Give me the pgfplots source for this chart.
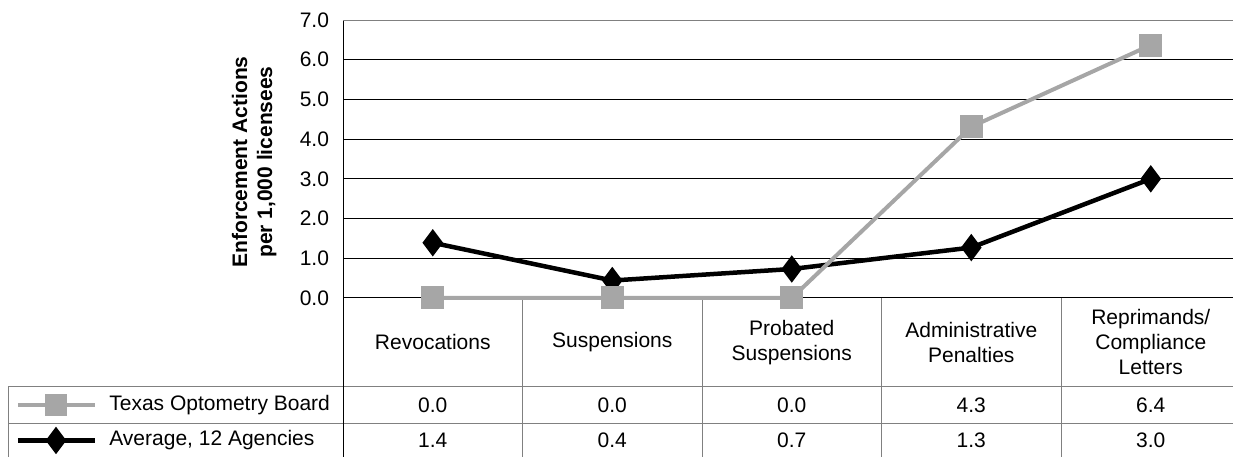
\documentclass[border=0pt]{standalone}
\usepackage{fontspec}
\setmainfont{Liberation Sans}
\usepackage{pgfplots}
\usepackage{pgfplotstable}
\pgfplotsset{compat=1.18}

\definecolor{tobgray}{HTML}{A6A6A6}
\definecolor{rulegray}{HTML}{808080}

% enforcement actions per 1,000 licensees
\pgfplotstableread{
x tob avg
0 0.0  1.39
1 0.0  0.44
2 0.0  0.73
3 4.31 1.27
4 6.37 3.0
}\enforcement

\newcommand{\chartfont}{\fontsize{10.5}{12.5}\selectfont}

\begin{document}
\begin{tikzpicture}
  \begin{axis}[
      scale only axis,
      width=445pt, height=139pt,
      xmin=-0.5, xmax=4.458,
      ymin=0, ymax=7,
      clip=false,
      axis line style={draw=none},
      major tick length=0pt,
      ytick={0,1,...,7},
      ymajorgrids,
      major grid style={black, line width=0.5pt},
      yticklabel style={font=\chartfont, xshift=-3.5pt,
        /pgf/number format/.cd, fixed, fixed zerofill, precision=1, assume math mode=true},
      xtick={0,...,4},
      xticklabels={Revocations, Suspensions, Probated\\Suspensions,
        Administrative\\Penalties, Reprimands/\\Compliance\\Letters},
      xticklabel style={font=\chartfont, align=center, anchor=center, yshift=-22.25pt},
      ylabel={Enforcement Actions\\per 1,000 licensees},
      ylabel style={font=\chartfont\bfseries, align=center, inner sep=0pt,
        at={(rel axis cs:-0.0742,0.489)}, anchor=south},
    ]

    % table rules
    \draw[rulegray, line width=0.5pt] (axis cs:-2.366,-2.241) -- (axis cs:4.458,-2.241);
    \draw[rulegray, line width=0.5pt] (axis cs:-2.366,-3.173) -- (axis cs:4.458,-3.173);
    \draw[rulegray, line width=0.5pt] (axis cs:-2.366,-2.241) -- (axis cs:-2.366,-4.1);
    \pgfplotsinvokeforeach{0.5,1.5,2.5,3.5}{
      \draw[rulegray, line width=0.5pt] (axis cs:#1,0) -- (axis cs:#1,-4.1);
    }
    \draw[black, line width=0.5pt] (axis cs:-0.5,7) -- (axis cs:-0.5,-4.1);
    \draw[rulegray, line width=0.5pt] (axis cs:-0.5,7) -- (axis cs:4.458,7);

    % series
    \addplot[black, line width=2.25pt, mark=diamond*, mark size=5pt]
      table[x=x, y=avg]{\enforcement};
    \addplot[tobgray, line width=2pt, mark=square*, mark size=4.75pt]
      table[x=x, y=tob]{\enforcement};

    % data table values
    \addplot[draw=none, mark=none, point meta=\thisrow{tob},
      nodes near coords={\pgfmathprintnumber[fixed,fixed zerofill,precision=1,assume math mode=true]{\pgfplotspointmeta}},
      every node near coord/.append style={anchor=center, font=\chartfont, text=black}]
      table[x=x, y expr=-2.707]{\enforcement};
    \addplot[draw=none, mark=none, point meta=\thisrow{avg},
      nodes near coords={\pgfmathprintnumber[fixed,fixed zerofill,precision=1,assume math mode=true]{\pgfplotspointmeta}},
      every node near coord/.append style={anchor=center, font=\chartfont, text=black}]
      table[x=x, y expr=-3.588]{\enforcement};

    % legend keys in the table
    \addplot[tobgray, line width=2pt, mark=square*, mark size=4.5pt, mark indices={2}]
      coordinates {(-2.311,-2.707) (-2.099,-2.707) (-1.882,-2.707)};
    \addplot[black, line width=2.25pt, mark=diamond*, mark size=5pt, mark indices={2}]
      coordinates {(-2.311,-3.588) (-2.099,-3.588) (-1.882,-3.588)};
    \node[anchor=west, font=\chartfont, inner sep=0pt] at (axis cs:-1.804,-2.707) {Texas Optometry Board};
    \node[anchor=west, font=\chartfont, inner sep=0pt] at (axis cs:-1.804,-3.588) {Average, 12 Agencies};

    \coordinate (bbsw) at (axis cs:-2.411,-4.004);
    \coordinate (bbne) at (axis cs:4.458,7.504);
  \end{axis}
  \pgfresetboundingbox
  \useasboundingbox (bbsw) rectangle (bbne);
\end{tikzpicture}
\end{document}
